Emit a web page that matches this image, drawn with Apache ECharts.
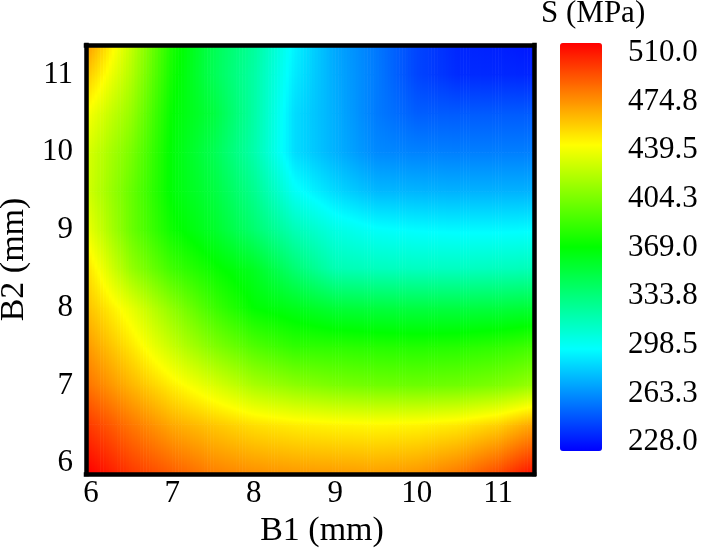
<!DOCTYPE html>
<html>
<head>
<meta charset="utf-8">
<script src="https://cdn.jsdelivr.net/npm/echarts@6/dist/echarts.min.js"></script>
<style>
  html, body { margin: 0; padding: 0; background: #fff; }
  #stressMap { width: 708px; height: 548px; }
</style>
</head>
<body>
<div id="stressMap"></div>
<script>
// B1 / B2 grid nodes (mm)
var b1 = [6, 6.5, 7, 7.5, 8, 8.5, 9, 9.5, 10, 10.5, 11, 11.5];
var b2 = [6, 6.5, 7, 7.5, 8, 8.5, 9, 9.5, 10, 10.5, 11, 11.5];
// S (MPa), one row per B2 value
var stress = [
  [506, 491, 480, 471, 466, 463, 462, 461, 463, 470, 482, 500],
  [493, 477, 463, 455, 448, 444, 442, 441, 442, 445, 452, 466],
  [477, 460, 444, 430, 416, 408, 403, 400, 399, 400, 404, 412],
  [466, 446, 424, 405, 391, 382, 381, 379, 378, 379, 382, 387],
  [455, 433, 408, 386, 369, 362, 354, 352, 351, 351, 352, 355],
  [445, 410, 386, 372, 360, 338, 320, 317, 316, 316, 317, 319],
  [432, 398, 372, 358, 339, 319, 306, 300, 298, 297, 297, 298],
  [425, 397, 367, 352, 330, 301, 288, 279, 278, 277, 277, 277],
  [427, 402, 367, 347, 322, 289, 277, 266, 264, 263, 263, 263],
  [436, 410, 369, 352, 324, 289, 276, 262, 254, 253, 253, 253],
  [452, 418, 373, 346, 324, 293, 275, 262, 247, 240, 239, 238],
  [468, 424, 376, 347, 327, 296, 274, 261, 247, 238, 236, 232]
];
// colour bar tick labels
var colorTicks = [228.0, 263.3, 298.5, 333.8, 369.0, 404.3, 439.5, 474.8, 510.0];

var serif = 'Liberation Serif';
var jet = ['#0000ff', '#0080ff', '#00ffff', '#00ff80', '#00ff00', '#80ff00', '#ffff00', '#ff8000', '#ff0000'];
var sMin = colorTicks[0], sMax = colorTicks[colorTicks.length - 1];
var xRange = [5.94, 11.44], yRange = [5.86, 11.38];

var nx = b1.length, ny = b2.length;
var cells = [];
for (var j = 0; j < ny; j++) {
  for (var i = 0; i < nx; i++) {
    cells.push([b1[i], b2[j], stress[j][i]]);
  }
}

function colorOf(v) {
  var t = (v - sMin) / (sMax - sMin);
  return echarts.color.lerp(Math.max(0, Math.min(1, t)), jet);
}

// value inside cell (i, j) at fractional position (tx, ty)
function cellValue(i, j, tx, ty) {
  var a = stress[j][i], b = stress[j][i + 1], c = stress[j + 1][i], d = stress[j + 1][i + 1];
  return (a * (1 - tx) + b * tx) * (1 - ty) + (c * (1 - tx) + d * tx) * ty;
}

// vertical gradient from top value to bottom value, exact at every colour-map node
function strip(vt, vb) {
  var stops = [{ offset: 0, color: colorOf(vt) }];
  var lo = Math.min(vt, vb), hi = Math.max(vt, vb);
  for (var k = 1; k < jet.length - 1; k++) {
    var vk = sMin + (sMax - sMin) * k / (jet.length - 1);
    if (vk > lo && vk < hi) stops.push({ offset: (vk - vt) / (vb - vt), color: jet[k] });
  }
  stops.push({ offset: 1, color: colorOf(vb) });
  stops.sort(function (p, q) { return p.offset - q.offset; });
  return new echarts.graphic.LinearGradient(0, 0, 0, 1, stops);
}

function intLabel(v) {
  return Math.abs(v - Math.round(v)) < 1e-6 ? String(Math.round(v)) : '';
}

var frameLine = { show: true, onZero: false, lineStyle: { color: '#000', width: 4.5, cap: 'square' } };

var chart = echarts.init(document.getElementById('stressMap'));
chart.setOption({
  animation: false,
  title: {
    text: 'S (MPa)',
    left: 541,
    top: -2,
    padding: 0,
    textStyle: { fontFamily: serif, fontSize: 31, fontWeight: 'normal', color: '#000' }
  },
  grid: [
    { left: 86, right: 174, top: 45, bottom: 74, outerBoundsMode: 'none', containLabel: false },
    { left: 604, width: 1, top: 53, height: 389, outerBoundsMode: 'none', containLabel: false }
  ],
  xAxis: [
    {
      type: 'value', gridIndex: 0, min: xRange[0], max: xRange[1], z: 5,
      name: 'B1 (mm)', nameLocation: 'middle', nameGap: 38,
      nameTextStyle: { fontFamily: serif, fontSize: 34, color: '#000', padding: [0, 0, 0, 24] },
      axisLine: frameLine,
      axisTick: { show: false },
      splitLine: { show: false },
      axisLabel: { fontFamily: serif, fontSize: 31, color: '#000', margin: 4, formatter: intLabel }
    },
    {
      type: 'value', gridIndex: 0, position: 'top', min: xRange[0], max: xRange[1], z: 5,
      axisLine: frameLine, axisTick: { show: false }, splitLine: { show: false }, axisLabel: { show: false }
    },
    { type: 'value', gridIndex: 1, show: false }
  ],
  yAxis: [
    {
      type: 'value', gridIndex: 0, min: yRange[0], max: yRange[1], z: 5,
      name: 'B2 (mm)', nameLocation: 'middle', nameGap: 52,
      nameTextStyle: { fontFamily: serif, fontSize: 34, color: '#000' },
      axisLine: frameLine,
      axisTick: { show: false },
      splitLine: { show: false },
      axisLabel: { fontFamily: serif, fontSize: 31, color: '#000', margin: 13, formatter: intLabel }
    },
    {
      type: 'value', gridIndex: 0, position: 'right', min: yRange[0], max: yRange[1], z: 5,
      axisLine: frameLine, axisTick: { show: false }, splitLine: { show: false }, axisLabel: { show: false }
    },
    {
      type: 'value', gridIndex: 1, position: 'right',
      min: sMin, max: sMax,
      interval: (sMax - sMin) / (colorTicks.length - 1),
      axisLine: { show: false }, axisTick: { show: false }, splitLine: { show: false },
      axisLabel: {
        fontFamily: serif, fontSize: 31, color: '#000', margin: 23,
        formatter: function (v, idx) { return colorTicks[idx].toFixed(1); }
      }
    }
  ],
  visualMap: {
    type: 'continuous',
    seriesIndex: 0,
    dimension: 2,
    min: sMin,
    max: sMax,
    calculable: false,
    left: 560,
    top: 43,
    padding: 0,
    itemWidth: 42,
    itemHeight: 408,
    inRange: { color: jet }
  },
  series: [{
    type: 'custom',
    xAxisIndex: 0,
    yAxisIndex: 0,
    clip: true,
    encode: { x: 0, y: 1 },
    data: cells,
    // each node draws the cell up and to the right of it, shaded between its four corners
    renderItem: function (params, api) {
      var i = params.dataIndex % nx, j = Math.floor(params.dataIndex / nx);
      if (i === nx - 1 || j === ny - 1) return null;
      var xa = i === 0 ? xRange[0] : b1[i];
      var ya = j === 0 ? yRange[0] : b2[j];
      var txa = (xa - b1[i]) / (b1[i + 1] - b1[i]);
      var tya = (ya - b2[j]) / (b2[j + 1] - b2[j]);
      var pA = api.coord([xa, ya]);
      var pB = api.coord([b1[i + 1], b2[j + 1]]);
      var n = Math.max(1, Math.ceil((pB[0] - pA[0]) / 3));
      var w = (pB[0] - pA[0]) / n;
      var children = [];
      for (var k = 0; k < n; k++) {
        var tx = txa + (1 - txa) * (k + 0.5) / n;
        var vb = cellValue(i, j, tx, tya);
        var vt = cellValue(i, j, tx, 1);
        children.push({
          type: 'rect',
          shape: { x: pA[0] + k * w, y: pB[1], width: w + 0.6, height: pA[1] - pB[1] + 0.6 },
          style: { fill: strip(vt, vb) }
        });
      }
      return { type: 'group', children: children };
    }
  }]
});
</script>
</body>
</html>
